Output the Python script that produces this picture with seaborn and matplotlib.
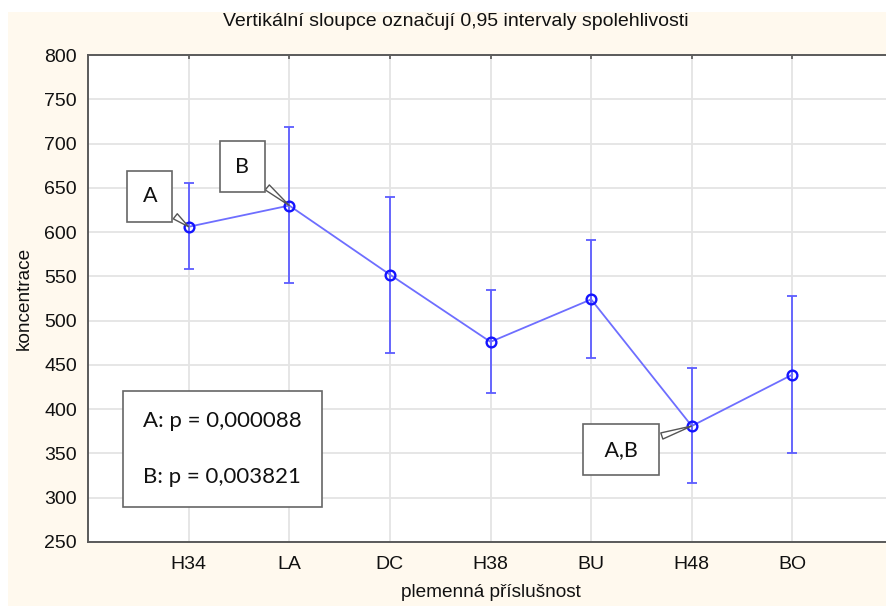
import numpy as np
import pandas as pd
import matplotlib
matplotlib.use("Agg")
import matplotlib.pyplot as plt
from matplotlib.patches import Rectangle
import seaborn as sns

# ---- data ----
categories = ["H34", "LA", "DC", "H38", "BU", "H48", "BO"]
means = [606, 630, 552, 476, 524, 381, 439]
ci_low = [558, 542, 464, 418, 458, 317, 351]
ci_high = [655, 719, 640, 535, 591, 447, 528]
yticks = [250, 300, 350, 400, 450, 500, 550, 600, 650, 700, 750, 800]
title = "Vertikální sloupce označují 0,95 intervaly spolehlivosti"
xlabel = "plemenná příslušnost"
ylabel = "koncentrace"
callouts = [("A", "H34", (-28, 22)), ("B", "LA", (-34, 28)), (" A,B ", "H48", (-51, -17))]
pbox_text = "A: p = 0,000088\n\nB: p = 0,003821"

df = pd.DataFrame({"cat": categories, "mean": means, "lo": ci_low, "hi": ci_high})
df["pos"] = np.arange(len(df))

sns.set_theme(style="white")
plt.rcParams["font.family"] = ["Liberation Sans", "DejaVu Sans"]

fig = plt.figure(figsize=(8.86, 6.06), dpi=100)
fig.patch.set_facecolor("white")
bg = Rectangle((8 / 886, 0), 1, 1 - 12 / 606, transform=fig.transFigure,
               facecolor="#FFF9EE", edgecolor="none", zorder=-10)
fig.add_artist(bg)
ax = fig.add_axes([88 / 886, 64 / 606, 805 / 886, 487 / 606])
ax.set_facecolor("white")

line_c = "#6E6EFF"
err_c = "#5C5CFF"
mk_c = "#1414FF"

ax.errorbar(df["pos"], df["mean"], yerr=[df["mean"] - df["lo"], df["hi"] - df["mean"]],
            fmt="none", ecolor=err_c, elinewidth=1.3, capsize=3.8, capthick=1.3, zorder=3)
sns.lineplot(data=df, x="pos", y="mean", ax=ax, color=line_c, linewidth=1.3, zorder=4,
             marker="o", markersize=7, markerfacecolor="none", markeredgecolor=mk_c,
             markeredgewidth=1.7)

ax.set_xlim(-1, 7)
ax.set_ylim(250, 800)
ax.set_xticks(df["pos"])
ax.set_xticklabels(categories)
ax.set_yticks(yticks)
ax.tick_params(axis="both", direction="in", length=3, width=1.2, color="#555555",
               labelsize=14, labelcolor="#111111", pad=8)
ax.tick_params(axis="x", top=True, pad=10)
ax.grid(True, color="#E4E4E4", linewidth=1.3)
ax.set_axisbelow(True)
for s in ["left", "top", "bottom", "right"]:
    ax.spines[s].set_color("#5A5A5A")
    ax.spines[s].set_linewidth(1.4)

ax.set_xlabel(xlabel, fontsize=13.7, color="#111111", labelpad=8)
ax.set_ylabel(ylabel, fontsize=13.7, color="#111111", labelpad=8)
fig.text(456 / 886, 1 - 22 / 606, title, ha="center", va="center", fontsize=14,
         color="#111111")

cal_font = ["Lato", "DejaVu Sans"]
for lab, cat, off in callouts:
    i = categories.index(cat)
    ax.annotate(lab, xy=(i, means[i]), xytext=off, textcoords="offset points",
                ha="center", va="center", fontsize=15.5, family=cal_font, color="#111111",
                bbox=dict(boxstyle="square,pad=0.72", fc="white", ec="#666666", lw=1.2),
                arrowprops=dict(arrowstyle="wedge,tail_width=0.3", fc="white",
                                ec="#555555", lw=1.0, shrinkB=0),
                zorder=6)

ax.text(0.0685, 0.19, pbox_text, transform=ax.transAxes, ha="left", va="center",
        fontsize=16, family=cal_font, color="#111111", linespacing=1.5,
        bbox=dict(boxstyle="square,pad=0.9", fc="white", ec="#666666", lw=1.2), zorder=6)

fig.savefig("out.png", dpi=100)
